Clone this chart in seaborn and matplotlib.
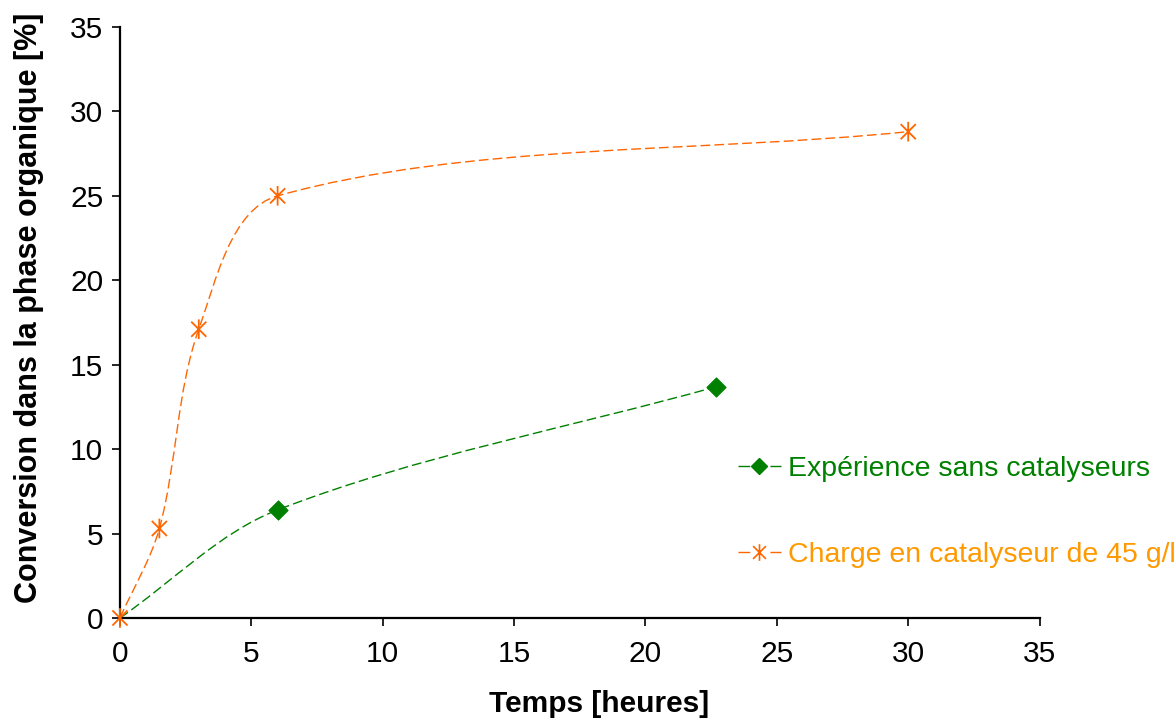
import numpy as np
import matplotlib
matplotlib.use("Agg")
import matplotlib.pyplot as plt
import seaborn as sns
from matplotlib.path import Path
from matplotlib.patches import PathPatch
from matplotlib.lines import Line2D

# data
temps_sans = [0, 6, 22.7]
conv_sans = [0, 6.4, 13.7]
temps_cat = [0, 1.5, 3, 6, 30]
conv_cat = [0, 5.3, 17.1, 25, 28.8]

label_sans = "Expérience sans catalyseurs"
label_cat = "Charge en catalyseur de 45 g/l"
ticks = [0, 5, 10, 15, 20, 25, 30, 35]

green = "#008000"
orange = "#FF6600"
orange_txt = "#FF9900"

sns.set_style("ticks")
plt.rcParams["font.family"] = ["Liberation Sans", "DejaVu Sans"]
plt.rcParams["text.color"] = "black"
plt.rcParams["axes.labelcolor"] = "black"
plt.rcParams["xtick.color"] = "black"
plt.rcParams["ytick.color"] = "black"

# star marker: X with a vertical bar
star = Path(
    [(-1, -1), (1, 1), (-1, 1), (1, -1), (0, -1.3), (0, 1.3)],
    [Path.MOVETO, Path.LINETO, Path.MOVETO, Path.LINETO, Path.MOVETO, Path.LINETO],
)


def smooth_line(ax, xs, ys, color):
    """Excel-like smoothed curve through the points (bezier segments)."""
    pts = ax.transData.transform(np.column_stack([xs, ys]))
    n = len(pts)
    verts = [pts[0]]
    codes = [Path.MOVETO]
    for i in range(n - 1):
        p0 = pts[max(i - 1, 0)]
        p1 = pts[i]
        p2 = pts[i + 1]
        p3 = pts[min(i + 2, n - 1)]
        d01 = np.hypot(*(p1 - p0))
        d12 = np.hypot(*(p2 - p1))
        d23 = np.hypot(*(p3 - p2))
        c1 = p1 + (p2 - p0) / 6 * (2 * d12 / (d01 + d12))
        c2 = p2 - (p3 - p1) / 6 * (2 * d12 / (d12 + d23))
        verts += [c1, c2, p2]
        codes += [Path.CURVE4] * 3
    verts = ax.transData.inverted().transform(np.array(verts))
    patch = PathPatch(Path(verts, codes), facecolor="none", edgecolor=color,
                      lw=1.0, linestyle=(0, (7, 3)), clip_on=False)
    ax.add_patch(patch)


fig = plt.figure(figsize=(11.76, 7.19), dpi=100)
ax = fig.add_axes([0.102, 0.1405, 0.782, 0.822])
ax.set_xlim(0, 35)
ax.set_ylim(0, 35)
ax.set_xticks(ticks)
ax.set_yticks(ticks)

smooth_line(ax, temps_sans, conv_sans, green)
smooth_line(ax, temps_cat, conv_cat, orange)

# the first green point has no marker in the original
sns.scatterplot(x=temps_sans[1:], y=conv_sans[1:], ax=ax, marker="D", s=95,
                color=green, edgecolor=green, clip_on=False, zorder=5)
sns.scatterplot(x=temps_cat, y=conv_cat, ax=ax, marker=star, s=200,
                facecolor="none", edgecolor=orange, linewidth=1.3,
                clip_on=False, zorder=5)

sns.despine(ax=ax)
for side in ["left", "bottom"]:
    ax.spines[side].set_linewidth(1.6)
    ax.spines[side].set_color("black")
ax.tick_params(axis="both", labelsize=21.5, length=6, width=1.2,
               direction="out")
ax.tick_params(axis="x", pad=10)
ax.tick_params(axis="y", pad=6)

ax.set_xlabel("Temps [heures]", fontsize=21.5, fontweight="bold")
ax.set_ylabel("Conversion dans la phase organique [%]", fontsize=22,
              fontweight="bold")
ax.xaxis.set_label_coords(0.5207, -0.122)
ax.yaxis.set_label_coords(-0.083, 0.524)

handles = [
    Line2D([], [], color=green, lw=1.0, linestyle=(0, (8.5, 14.5)),
           marker="D", markersize=8.5, markerfacecolor=green, markeredgecolor=green),
    Line2D([], [], color=orange, lw=1.0, linestyle=(0, (8.5, 14.5)),
           marker=star, markersize=12, markerfacecolor="none",
           markeredgecolor=orange, markeredgewidth=1.2),
]
leg = fig.legend(handles, [label_sans, label_cat], loc="upper left",
                 bbox_to_anchor=(0.6276, 0.366), frameon=False, fontsize=20.5,
                 handlelength=1.5, handletextpad=0.25, labelspacing=2.12,
                 borderpad=0, borderaxespad=0)
for txt, col in zip(leg.get_texts(), [green, orange_txt]):
    txt.set_color(col)

fig.savefig("out.png", dpi=100)
